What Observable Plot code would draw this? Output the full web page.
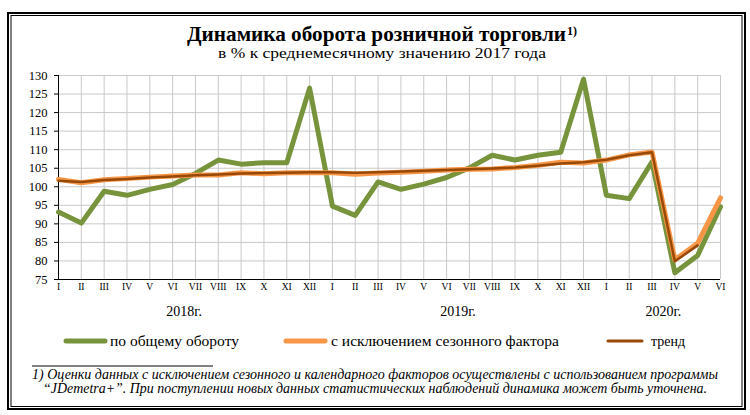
<!DOCTYPE html>
<html>
<head>
<meta charset="utf-8">
<script src="https://cdn.jsdelivr.net/npm/d3@7"></script>
<script src="https://cdn.jsdelivr.net/npm/@observablehq/plot@0.6"></script>
<style>
  html, body { margin: 0; padding: 0; background: #fff; }
  #wrap { position: relative; width: 750px; height: 415px; overflow: hidden; background: #fff; }
  #chart { position: absolute; left: 0; top: 60px; }
  #deco { position: absolute; left: 0; top: 0; pointer-events: none; }
  text, #chart svg, #chart svg text { font-family: "Liberation Serif", "Times New Roman", serif !important; }
</style>
</head>
<body>
<div id="wrap">
  <div id="chart"></div>
  <svg id="deco" width="750" height="415" xmlns="http://www.w3.org/2000/svg">
    <rect x="8" y="13" width="737" height="396" fill="none" stroke="#000" stroke-width="2"/>
    <rect x="11" y="15.5" width="731" height="391" fill="none" stroke="#000" stroke-width="1"/>
    <text x="187" y="41" font-size="21" font-weight="bold" textLength="379" lengthAdjust="spacingAndGlyphs">Динамика оборота розничной торговли</text>
    <text x="567" y="35" font-size="12" font-weight="bold">1)</text>
    <text x="218" y="58" font-size="15" textLength="328" lengthAdjust="spacingAndGlyphs">в % к среднемесячному значению 2017 года</text>
    <g id="legend"></g>
    <line x1="32" y1="366" x2="213" y2="366" stroke="#000" stroke-width="1"/>
    <text x="32" y="379" font-size="14" font-style="italic" textLength="686" lengthAdjust="spacingAndGlyphs">1) Оценки данных с исключением сезонного и календарного факторов осуществлены с использованием программы</text>
    <text x="43" y="393" font-size="14" font-style="italic" textLength="664" lengthAdjust="spacingAndGlyphs">“JDemetra+”. При поступлении новых данных статистических наблюдений динамика может быть уточнена.</text>
  </svg>
</div>
<script>
// ---- data ----
const roman = ["I","II","III","IV","V","VI","VII","VIII","IX","X","XI","XII"];
const monthLabels = [...roman, ...roman, ...roman.slice(0, 6)];
const years = ["2018г.", "2019г.", "2020г."];
const yearCenterIndex = [5.5, 17.5, 26.5];

// по общему обороту
const total = [93.2, 90.2, 98.8, 97.7, 99.3, 100.6, 103.6, 107.2, 106.1, 106.5, 106.5, 126.6,
               94.8, 92.3, 101.3, 99.3, 100.7, 102.5, 105.1, 108.5, 107.2, 108.5, 109.3, 129.0,
               97.7, 96.8, 106.7, 76.8, 81.5, 94.6];
// с исключением сезонного фактора
const seasonal = [102.0, 101.1, 101.9, 102.2, 102.6, 102.9, 103.2, 103.2, 103.8, 103.5, 103.8, 103.8,
                  103.8, 103.4, 103.7, 103.9, 104.2, 104.5, 104.7, 104.8, 105.2, 105.8, 106.6, 106.4,
                  107.2, 108.6, 109.4, 80.3, 84.8, 97.0];
// тренд
const trend = [101.6, 101.3, 101.8, 102.1, 102.5, 102.8, 103.1, 103.3, 103.6, 103.7, 103.8, 103.9,
               103.9, 103.8, 103.9, 104.1, 104.3, 104.5, 104.7, 104.9, 105.2, 105.7, 106.3, 106.6,
               107.3, 108.5, 109.3, 79.9, 84.2];

const yTicks = d3.range(75, 131, 5);
const xTicks = d3.range(monthLabels.length);

const seriesNames = ["по общему обороту", "с исключением сезонного фактора", "тренд"];
const colors = ["#77933C", "#F79646", "#984807"];

const chart = Plot.plot({
  width: 750,
  height: 262,
  marginLeft: 58,
  marginRight: 30,
  marginTop: 15,
  marginBottom: 43,
  style: { fontFamily: "Liberation Serif, Times New Roman, serif", fontSize: "12px", color: "#000", background: "transparent", overflow: "visible" },
  x: { type: "linear", domain: [0, monthLabels.length - 1] },
  y: { domain: [75, 130] },
  marks: [
    Plot.gridY({ ticks: yTicks, stroke: "#c9c9c9", strokeOpacity: 1 }),
    Plot.gridX({ ticks: xTicks, stroke: "#c9c9c9", strokeOpacity: 1 }),
    Plot.axisY({ ticks: yTicks, tickSize: 4, tickPadding: 7, label: null, fontSize: 12.5 }),
    Plot.axisX({ ticks: xTicks, tickFormat: i => monthLabels[i], tickSize: 0, tickPadding: 4, label: null, fontSize: 9.5 }),
    Plot.ruleX([0], { stroke: "#000" }),
    Plot.ruleY([75], { stroke: "#000" }),
    Plot.lineY(total, { x: (d, i) => i, y: d => d, stroke: colors[0], strokeWidth: 5 }),
    Plot.lineY(seasonal, { x: (d, i) => i, y: d => d, stroke: colors[1], strokeWidth: 5 }),
    Plot.lineY(trend, { x: (d, i) => i, y: d => d, stroke: colors[2], strokeWidth: 2.5 }),
    Plot.text(years, { x: (d, i) => yearCenterIndex[i], y: () => 75, dy: 32, text: d => d, fontSize: 14 })
  ]
});
document.getElementById("chart").appendChild(chart);

// legend
const lg = document.getElementById("legend");
const ns = "http://www.w3.org/2000/svg";
const legendItems = [
  { x1: 66, x2: 105, tx: 110, len: 129, w: 5 },
  { x1: 286, x2: 325, tx: 331, len: 228, w: 5 },
  { x1: 608, x2: 642, tx: 651, len: 34, w: 3 }
];
legendItems.forEach((it, i) => {
  const l = document.createElementNS(ns, "line");
  l.setAttribute("x1", it.x1); l.setAttribute("x2", it.x2);
  l.setAttribute("y1", 341); l.setAttribute("y2", 341);
  l.setAttribute("stroke", colors[i]); l.setAttribute("stroke-width", it.w);
  l.setAttribute("stroke-linecap", "round");
  lg.appendChild(l);
  const t = document.createElementNS(ns, "text");
  t.setAttribute("x", it.tx); t.setAttribute("y", 346);
  t.setAttribute("font-size", 14);
  t.setAttribute("textLength", it.len);
  t.setAttribute("lengthAdjust", "spacingAndGlyphs");
  t.textContent = seriesNames[i];
  lg.appendChild(t);
});
</script>
</body>
</html>
